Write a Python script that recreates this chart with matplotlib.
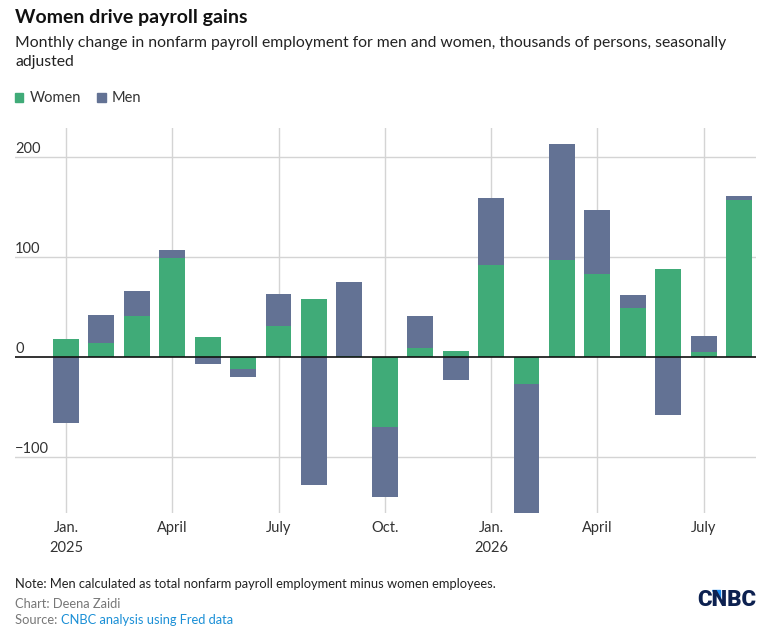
import matplotlib.pyplot as plt
import numpy as np
from matplotlib.patches import Polygon

# monthly change, thousands of persons (Jan 2025 .. Aug 2026)
months = ["Jan.\n2025", "Feb", "Mar", "April", "May", "Jun", "July", "Aug", "Sep",
          "Oct.", "Nov", "Dec", "Jan.\n2026", "Feb", "Mar", "April", "May", "Jun",
          "July", "Aug"]
women = [18, 14, 41, 99, 20, -12, 31, 58, 1, -70,
         9, 6, 92, -27, 97, 83, 49, 88, 5, 157]
men = [-66, 28, 25, 8, -7, -8, 32, -128, 74, -70,
       32, -23, 67, -131, 116, 64, 13, -58, 16, 4]

ticks_shown = [0, 3, 6, 9, 12, 15, 18]

GREEN = "#40ab78"
SLATE = "#637294"

plt.rcParams["font.family"] = ["Lato", "DejaVu Sans"]

fig = plt.figure(figsize=(7.76, 6.36), dpi=100)
ax = fig.add_axes([15 / 776, 1 - 513 / 636, 741 / 776, 385 / 636])

x = np.arange(len(months))
w = np.array(women, dtype=float)
m = np.array(men, dtype=float)

# diverging stack: positives stack upward, negatives downward
w_base = np.zeros_like(w)
m_base = np.where(np.sign(m) == np.sign(w), w, 0.0)
ax.bar(x, w, bottom=w_base, width=0.73, color=GREEN, zorder=2, label="Women")
ax.bar(x, m, bottom=m_base, width=0.73, color=SLATE, zorder=2, label="Men")

ax.set_xlim(-1.44, 19.48)
ax.set_ylim(-156, 229)

for v in [-100, 100, 200]:
    ax.axhline(v, color="#d4d4d4", lw=1, zorder=0)
ax.axhline(0, color="#111111", lw=1.2, zorder=3)
for i in ticks_shown:
    ax.axvline(i, color="#d4d4d4", lw=1, zorder=0)

for v, lab in [(200, "200"), (100, "100"), (0, "0"), (-100, "\u2212100")]:
    ax.text(-1.44, v + 4, lab, ha="left", va="baseline", fontsize=10.5, color="#333333")

ax.set_xticks([])
ax.set_yticks([])
for s in ax.spines.values():
    s.set_visible(False)

for i in ticks_shown:
    ax.text(i, -164, months[i], ha="center", va="top", fontsize=10.5,
            color="#333333", linespacing=1.5, transform=ax.transData, clip_on=False)

fig.text(15 / 776, 1 - 18 / 636, "Women drive payroll gains", fontsize=14,
         fontweight="bold", color="#111111", va="center")
fig.text(15 / 776, 1 - 43 / 636,
         "Monthly change in nonfarm payroll employment for men and women, thousands of persons, seasonally",
         fontsize=11.3, color="#222222", va="center")
fig.text(15 / 776, 1 - 62 / 636, "adjusted", fontsize=11.3, color="#222222", va="center")

# legend
fig.patches.append(plt.Rectangle((15 / 776, 1 - 102 / 636), 8 / 776, 9 / 636,
                                 color=GREEN, transform=fig.transFigure))
fig.text(30 / 776, 1 - 98 / 636, "Women", fontsize=10.5, color="#333333", va="center")
fig.patches.append(plt.Rectangle((97 / 776, 1 - 102 / 636), 9 / 776, 9 / 636,
                                 color=SLATE, transform=fig.transFigure))
fig.text(112 / 776, 1 - 98 / 636, "Men", fontsize=10.5, color="#333333", va="center")

# footer
fig.text(15 / 776, 1 - 584 / 636,
         "Note: Men calculated as total nonfarm payroll employment minus women employees.",
         fontsize=9.3, color="#222222", va="center")
fig.text(15 / 776, 1 - 604 / 636, "Chart: Deena Zaidi", fontsize=9.3,
         color="#777777", va="center")
t = fig.text(15 / 776, 1 - 620 / 636, "Source: ", fontsize=9.3, color="#777777", va="center")
fig.canvas.draw()
bb = t.get_window_extent()
fig.text(bb.x1 / 776, 1 - 620 / 636, "CNBC analysis using Fred data", fontsize=9.3,
         color="#1a8fd6", va="center")

fig.text(756 / 776, 1 - 600 / 636, "CNBC", fontsize=16, fontweight="black",
         color="#0d2150", ha="right", va="center", family=["Roboto", "DejaVu Sans"])
fig.patches.append(Polygon([(712 / 776, 1 - 590 / 636), (720 / 776, 1 - 590 / 636),
                            (720 / 776, 1 - 599 / 636)], closed=True,
                           color="#1c8cf0", transform=fig.transFigure))

fig.savefig("out.png", dpi=100)
